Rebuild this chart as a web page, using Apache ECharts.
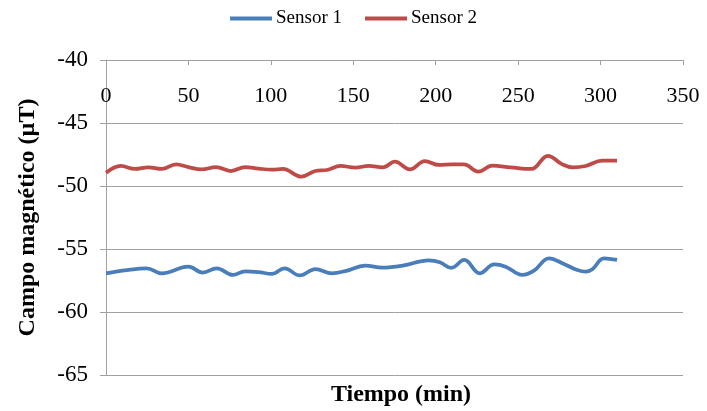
<!DOCTYPE html>
<html>
<head>
<meta charset="utf-8">
<script src="https://cdn.jsdelivr.net/npm/echarts@6/dist/echarts.min.js"></script>
<style>html,body{margin:0;padding:0;background:#fff}#c{width:707px;height:411px}</style>
</head>
<body>
<div id="c"></div>
<script>
const xTicks = [0, 50, 100, 150, 200, 250, 300, 350];
const yTicks = [-65, -60, -55, -50, -45, -40];
const seriesNames = ['Sensor 1', 'Sensor 2'];
const sensor1Time = [0,12.6,24.7,33.8,50,58.7,67.2,77,84.4,92.5,100.6,108.3,117.6,127,137.1,145.2,157.4,167.5,180,195.8,202.5,209.5,217.3,226.7,235.5,242.4,252.5,259.6,268.7,277.8,285.9,291,295,302,310];
const sensor1Field = [-56.93,-56.67,-56.53,-56.93,-56.4,-56.87,-56.53,-57.06,-56.77,-56.83,-56.98,-56.53,-57.1,-56.59,-56.93,-56.75,-56.32,-56.48,-56.32,-55.9,-56.05,-56.5,-55.87,-56.93,-56.23,-56.4,-57.06,-56.72,-55.74,-56.19,-56.67,-56.8,-56.61,-55.74,-55.87];
const sensor2Time = [0,9,17.6,25.7,33.8,42.5,50,58,66.8,75.7,84.4,92.5,100.6,107.3,118.5,127,134,142.2,151.3,159.4,167.9,175.2,184.3,193.4,201.9,210,217.1,225.8,234.3,245.4,258,268,276.8,283,291,301,310];
const sensor2Field = [-48.95,-48.4,-48.65,-48.52,-48.65,-48.28,-48.5,-48.68,-48.5,-48.81,-48.5,-48.62,-48.7,-48.65,-49.26,-48.81,-48.73,-48.41,-48.54,-48.41,-48.52,-48.07,-48.68,-48.02,-48.33,-48.28,-48.28,-48.86,-48.39,-48.52,-48.65,-47.6,-48.28,-48.52,-48.41,-47.99,-47.99];

const pair = (xs, ys) => xs.map((x, i) => [x, ys[i]]);
const font = 'Liberation Serif';
const chart = echarts.init(document.getElementById('c'), null, {renderer: 'canvas'});
chart.setOption({
  animation: false,
  backgroundColor: '#fff',
  legend: {
    data: seriesNames,
    top: 4, left: 'center',
    icon: 'rect', itemWidth: 42, itemHeight: 4, itemGap: 23,
    textStyle: {fontFamily: font, fontSize: 19, color: '#000', padding: [0,0,0,-1]}
  },
  title: {
    text: 'Tiempo (min)', left: 396, top: 378, textAlign: 'center',
    textStyle: {fontFamily: font, fontSize: 24, fontWeight: 'bold', color: '#000'}
  },
  grid: {left: 106, right: 24, top: 60, bottom: 36, containLabel: false},
  xAxis: {
    type: 'value', position: 'top', min: xTicks[0], max: xTicks[xTicks.length-1], interval: 50,
    axisLine: {show: true, lineStyle: {color: '#a0a0a0', width: 1}},
    axisTick: {show: true, inside: true, length: 5, lineStyle: {color: '#a0a0a0'}},
    axisLabel: {inside: true, margin: 25, fontFamily: font, fontSize: 22, color: '#000'},
    splitLine: {show: false}
  },
  yAxis: {
    type: 'value', min: yTicks[0], max: yTicks[yTicks.length-1], interval: 5,
    name: 'Campo magnético (µT)', nameLocation: 'middle', nameGap: 66, nameRotate: 90,
    nameTextStyle: {fontFamily: font, fontSize: 24, fontWeight: 'bold', color: '#000'},
    axisLine: {show: true, lineStyle: {color: '#a0a0a0', width: 1}},
    axisTick: {show: true, length: 6, lineStyle: {color: '#a0a0a0'}},
    axisLabel: {margin: 18, fontFamily: font, fontSize: 23, color: '#000'},
    splitLine: {show: true, lineStyle: {color: '#a0a0a0', width: 1}}
  },
  series: [
    {name: seriesNames[0], type: 'line', data: pair(sensor1Time, sensor1Field), smooth: 0.4, showSymbol: false,
     lineStyle: {color: '#4a7ebb', width: 3.75}, itemStyle: {color: '#4a7ebb'}},
    {name: seriesNames[1], type: 'line', data: pair(sensor2Time, sensor2Field), smooth: 0.4, showSymbol: false,
     lineStyle: {color: '#be4b48', width: 3.75}, itemStyle: {color: '#be4b48'}}
  ]
});
</script>
</body>
</html>
